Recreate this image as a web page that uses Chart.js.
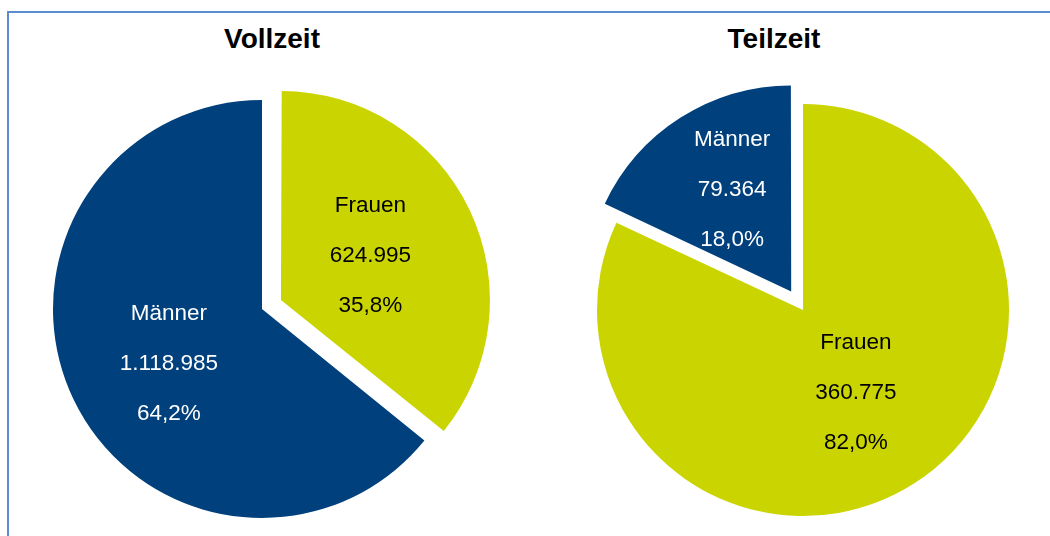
<!DOCTYPE html>
<html>
<head>
<meta charset="utf-8">
<script src="https://cdn.jsdelivr.net/npm/chart.js@4"></script>
<style>
  html, body { margin: 0; padding: 0; background: #fff; overflow: hidden; }
  body { width: 1050px; height: 536px; position: relative; font-family: "Liberation Sans", Arial, sans-serif; }
  .rahmen { position: absolute; left: 7px; top: 11px; width: 1100px; height: 600px; border-left: 2px solid #5b8bd0; border-top: 2px solid #5b8bd0; }
  .titel { position: absolute; top: 23px; font-weight: bold; font-size: 28px; color: #000; text-align: center; width: 200px; }
  canvas { position: absolute; top: 0; }
</style>
</head>
<body>
<div class="rahmen"></div>
<div class="titel" style="left:172px">Vollzeit</div>
<div class="titel" style="left:674px">Teilzeit</div>
<canvas id="vollzeit" width="524" height="536" style="left:0"></canvas>
<canvas id="teilzeit" width="525" height="536" style="left:525px"></canvas>
<script>
const kategorien = ['Frauen', 'Männer'];
const vollzeitWerte = [624995, 1118985];
const teilzeitWerte = [360775, 79364];
const farben = ['#cad400', '#00407c'];

const fmtZahl = v => v.toLocaleString('de-DE');
const fmtProzent = p => p.toFixed(1).replace('.', ',') + '%';

// herausgezogene Segmente sollen nicht groesser werden als der Rest
const radiusKorrektur = {
  id: 'radiusKorrektur',
  beforeDatasetsDraw(chart) {
    chart.getDatasetMeta(0).data.forEach(arc => {
      const off = (arc.options.offset || 0) / 4;
      if (!off) return;
      const fix = 1 - Math.sin(Math.min(Math.PI, arc.circumference));
      arc.outerRadius = chart.options.radius - off * fix;
    });
  }
};

// Beschriftung in die Segmente schreiben (Name, Wert, Anteil)
const segmentLabels = {
  id: 'segmentLabels',
  afterDatasetsDraw(chart, args, opts) {
    const ctx = chart.ctx;
    const ds = chart.data.datasets[0];
    const summe = ds.data.reduce((a, b) => a + b, 0);
    chart.getDatasetMeta(0).data.forEach((arc, i) => {
      const mitte = (arc.startAngle + arc.endAngle) / 2;
      const versatz = (arc.options.offset || 0) / 4;
      const r = versatz + chart.options.radius * opts.abstand[i];
      const x = arc.x + Math.cos(mitte) * r + opts.schub[i][0];
      const y = arc.y + Math.sin(mitte) * r + opts.schub[i][1];
      const zeilen = [chart.data.labels[i], fmtZahl(ds.data[i]), fmtProzent(ds.data[i] / summe * 100)];
      ctx.save();
      ctx.font = '22.5px "Liberation Sans", Arial, sans-serif';
      ctx.fillStyle = opts.farben[i];
      ctx.textAlign = 'center';
      ctx.textBaseline = 'middle';
      zeilen.forEach((t, z) => ctx.fillText(t, x, y + (z - 1) * opts.zeilenabstand));
      ctx.restore();
    });
  }
};

function tortenDiagramm(el, werte, radius, offsets, padding, abstand, schub) {
  return new Chart(el, {
    type: 'pie',
    data: {
      labels: kategorien,
      datasets: [{
        data: werte,
        backgroundColor: farben,
        borderWidth: 0,
        offset: offsets,
        hoverOffset: 0
      }]
    },
    options: {
      responsive: false,
      animation: false,
      events: [],
      radius: radius,
      layout: { padding: padding },
      plugins: {
        legend: { display: false },
        tooltip: { enabled: false },
        segmentLabels: { abstand: abstand, schub: schub, farben: ['#000', '#fff'], zeilenabstand: 50 }
      }
    },
    plugins: [radiusKorrektur, segmentLabels]
  });
}

tortenDiagramm(document.getElementById('vollzeit'), vollzeitWerte, 209, [84, 0], { top: 82 },
  [0.49, 0.52], [[-3, 0], [5, 8]]);
tortenDiagramm(document.getElementById('teilzeit'), teilzeitWerte, 206, [0, 88], { top: 84, left: 31 },
  [0.47, 0.58], [[1, 1], [5, -1]]);
</script>
</body>
</html>
